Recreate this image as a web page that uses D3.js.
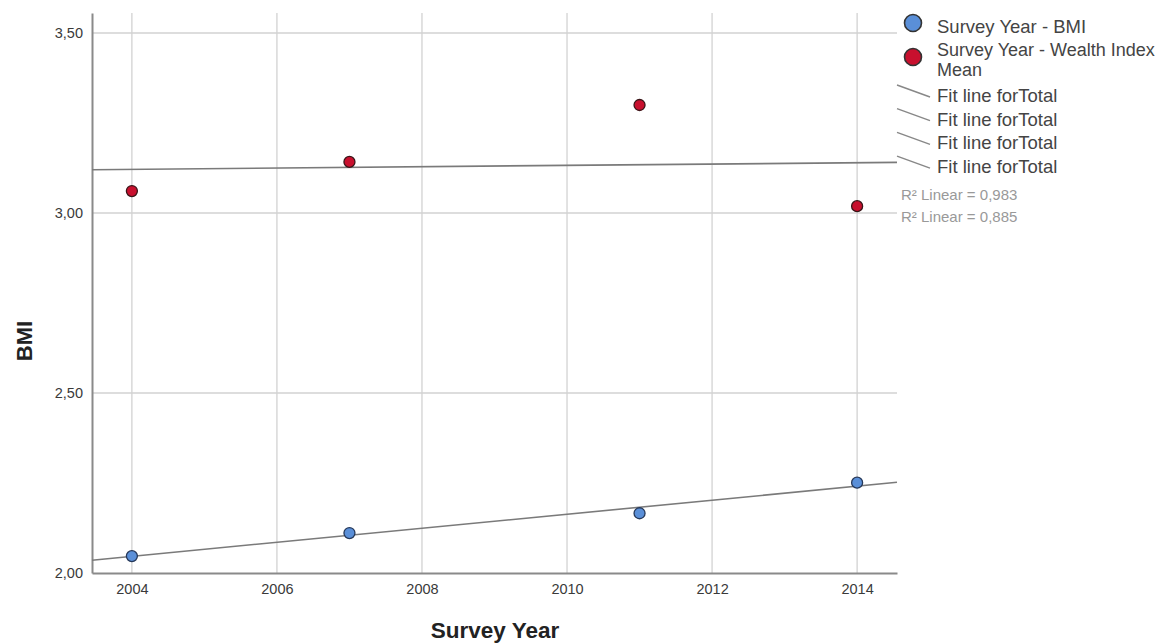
<!DOCTYPE html>
<html>
<head>
<meta charset="utf-8">
<script src="https://cdn.jsdelivr.net/npm/d3@7"></script>
<style>
  html, body { margin: 0; padding: 0; background: #fff; }
  svg { display: block; font-family: Arial, "Liberation Sans", sans-serif; }
</style>
</head>
<body>
<svg id="chart" width="1166" height="643"></svg>
<script>
// ---- data ----
const years = [2004, 2007, 2011, 2014];
const bmiValues = [2.047, 2.111, 2.166, 2.251];
const wealthValues = [3.061, 3.142, 3.300, 3.019];
const xTicks = [2004, 2006, 2008, 2010, 2012, 2014];
const yTicks = [2.0, 2.5, 3.0, 3.5];
const legendSeries = ["Survey Year - BMI", "Survey Year - Wealth Index\nMean"];
const fitLabels = ["Fit line forTotal", "Fit line forTotal", "Fit line forTotal", "Fit line forTotal"];
const r2Labels = ["R\u00B2 Linear = 0,983", "R\u00B2 Linear = 0,885"];
const xDomain = [2003.45, 2014.55];
const yDomain = [2.0, 3.5556];

// ---- layout ----
const plotLeft = 92, plotRight = 897, plotTop = 13, plotBottom = 573;
const svg = d3.select("#chart");
const x = d3.scaleLinear().domain(xDomain).range([plotLeft, plotRight]);
const y = d3.scaleLinear().domain(yDomain).range([plotBottom, plotTop]);
const fmt = v => d3.format(".2f")(v).replace(".", ",");

// grid
svg.append("g").selectAll("line").data(yTicks.filter(t => t > yDomain[0])).join("line")
  .attr("x1", plotLeft).attr("x2", plotRight)
  .attr("y1", d => y(d)).attr("y2", d => y(d))
  .attr("stroke", "#d2d2d2").attr("stroke-width", 1.3);
svg.append("g").selectAll("line").data(xTicks).join("line")
  .attr("x1", d => x(d)).attr("x2", d => x(d))
  .attr("y1", plotTop).attr("y2", plotBottom)
  .attr("stroke", "#d2d2d2").attr("stroke-width", 1.3);

// axes
const yAxis = d3.axisLeft(y).tickValues(yTicks).tickSize(0).tickPadding(9).tickFormat(fmt);
const gy = svg.append("g").attr("transform", `translate(${plotLeft},0)`).call(yAxis);
const xAxis = d3.axisBottom(x).tickValues(xTicks).tickSize(0).tickPadding(11).tickFormat(d3.format("d"));
const gx = svg.append("g").attr("transform", `translate(0,${plotBottom})`).call(xAxis);
[gx, gy].forEach(g => {
  g.select(".domain").attr("stroke", "#8a8a8a").attr("stroke-width", 2);
  g.selectAll("text").attr("font-size", 14.5).attr("fill", "#3a3a3a")
    .attr("font-family", "Arial, 'Liberation Sans', sans-serif");
});

// regression fit lines
function fit(xs, ys) {
  const mx = d3.mean(xs), my = d3.mean(ys);
  let sxy = 0, sxx = 0;
  xs.forEach((v, i) => { sxy += (v - mx) * (ys[i] - my); sxx += (v - mx) * (v - mx); });
  const b = sxy / sxx, a = my - b * mx;
  return t => a + b * t;
}
[bmiValues, wealthValues].forEach(vals => {
  const f = fit(years, vals);
  svg.append("line")
    .attr("x1", x(xDomain[0])).attr("y1", y(f(xDomain[0])))
    .attr("x2", x(xDomain[1])).attr("y2", y(f(xDomain[1])))
    .attr("stroke", "#7a7a7a").attr("stroke-width", 1.6);
});

// points
const series = [
  { vals: bmiValues, fill: "#5a8fd8", stroke: "#26395a" },
  { vals: wealthValues, fill: "#c8102e", stroke: "#3a1518" }
];
series.forEach(s => {
  svg.append("g").selectAll("circle").data(years).join("circle")
    .attr("cx", d => x(d)).attr("cy", (d, i) => y(s.vals[i]))
    .attr("r", 5.5).attr("fill", s.fill).attr("stroke", s.stroke).attr("stroke-width", 1.3);
});

// axis titles
svg.append("text").attr("x", 495).attr("y", 638).attr("text-anchor", "middle")
  .attr("font-size", 22.5).attr("font-weight", "bold").attr("fill", "#222").text("Survey Year");
svg.append("text").attr("transform", "translate(32,341) rotate(-90)").attr("text-anchor", "middle")
  .attr("font-size", 22).attr("font-weight", "bold").attr("fill", "#222").text("BMI");

// legend
const lg = svg.append("g");
const legY = [23, 57];
series.forEach((s, i) => {
  lg.append("circle").attr("cx", 913).attr("cy", legY[i]).attr("r", 8.5)
    .attr("fill", s.fill).attr("stroke", "#333").attr("stroke-width", 1.6);
});
lg.append("text").attr("x", 937).attr("y", 33).attr("font-size", 18.5).attr("fill", "#444").text(legendSeries[0]);
legendSeries[1].split("\n").forEach((line, i) => {
  lg.append("text").attr("x", 937).attr("y", 56 + i * 20.4).attr("font-size", 18)
    .attr("fill", "#444").text(line);
});
fitLabels.forEach((lab, i) => {
  const yy = 85 + i * 23.7;
  lg.append("line").attr("x1", 897).attr("y1", yy).attr("x2", 930).attr("y2", yy + 12)
    .attr("stroke", "#888").attr("stroke-width", 1.4);
  lg.append("text").attr("x", 937).attr("y", 102 + i * 23.7).attr("font-size", 18.5)
    .attr("fill", "#444").text(lab);
});
r2Labels.forEach((lab, i) => {
  lg.append("text").attr("x", 901).attr("y", 200 + i * 22).attr("font-size", 15)
    .attr("fill", "#999").text(lab);
});
</script>
</body>
</html>
